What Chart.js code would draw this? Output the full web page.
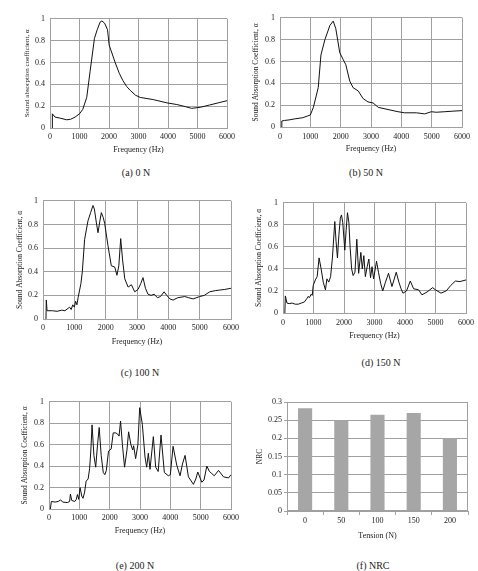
<!DOCTYPE html>
<html>
<head>
<meta charset="utf-8">
<script src="https://cdn.jsdelivr.net/npm/chart.js@4"></script>
<style>
body{margin:0;background:#fff;width:478px;height:571px;position:relative;overflow:hidden;font-family:"Liberation Serif",serif;}
canvas{position:absolute;}
.cap{position:absolute;width:120px;text-align:center;font-size:10px;line-height:12px;color:#222;}
</style>
</head>
<body>
<script>
// (a) 0 N
const freqA = [70, 80, 170, 350, 570, 700, 850, 1000, 1110, 1245, 1360, 1506, 1600, 1700, 1760, 1850, 1950, 2005, 2208, 2350, 2469, 2600, 2718, 2900, 3058, 3500, 3964, 4300, 4600, 4800, 5100, 5400, 5700, 6000];
const alphaA = [0, 0.13, 0.1, 0.09, 0.075, 0.08, 0.1, 0.13, 0.17, 0.28, 0.52, 0.82, 0.9, 0.97, 0.98, 0.96, 0.9, 0.76, 0.6, 0.5, 0.435, 0.38, 0.345, 0.3, 0.28, 0.26, 0.23, 0.215, 0.195, 0.18, 0.19, 0.21, 0.23, 0.25];
// (b) 50 N
const freqB = [50, 60, 150, 300, 500, 750, 900, 1000, 1100, 1260, 1350, 1480, 1645, 1755, 1840, 1970, 2080, 2170, 2300, 2410, 2580, 2740, 2900, 3070, 3240, 3560, 3890, 4110, 4500, 4770, 4990, 5150, 5430, 5700, 6000];
const alphaB = [0, 0.055, 0.06, 0.065, 0.075, 0.085, 0.1, 0.11, 0.18, 0.36, 0.66, 0.8, 0.93, 0.97, 0.9, 0.68, 0.62, 0.57, 0.42, 0.36, 0.33, 0.26, 0.23, 0.22, 0.18, 0.16, 0.14, 0.13, 0.13, 0.12, 0.14, 0.135, 0.14, 0.145, 0.15];
// (c) 100 N
const freqC = [95, 105, 130, 300, 450, 600, 700, 800, 850, 900, 950, 1000, 1040, 1083, 1120, 1169, 1210, 1255, 1329, 1435, 1520, 1595, 1640, 1700, 1755, 1810, 1862, 1920, 1968, 2074, 2180, 2290, 2360, 2420, 2480, 2540, 2610, 2717, 2822, 2927, 3033, 3120, 3191, 3270, 3350, 3450, 3550, 3650, 3750, 3864, 3950, 4050, 4150, 4300, 4525, 4650, 4790, 5000, 5150, 5320, 5500, 5640, 5800, 6000];
const alphaC = [0, 0.16, 0.07, 0.07, 0.065, 0.075, 0.07, 0.09, 0.1, 0.08, 0.12, 0.1, 0.15, 0.12, 0.18, 0.245, 0.3, 0.4, 0.675, 0.83, 0.9, 0.96, 0.93, 0.82, 0.73, 0.82, 0.9, 0.86, 0.81, 0.62, 0.45, 0.44, 0.37, 0.45, 0.68, 0.5, 0.34, 0.27, 0.29, 0.23, 0.25, 0.3, 0.35, 0.26, 0.21, 0.2, 0.21, 0.18, 0.19, 0.23, 0.2, 0.17, 0.16, 0.18, 0.19, 0.18, 0.17, 0.19, 0.2, 0.23, 0.24, 0.245, 0.25, 0.26];
// (d) 150 N
const freqD = [60, 77, 130, 200, 300, 400, 500, 600, 700, 780, 820, 870, 920, 960, 990, 1060, 1120, 1183, 1250, 1320, 1391, 1440, 1500, 1560, 1620, 1698, 1740, 1785, 1830, 1880, 1917, 1960, 2026, 2070, 2114, 2160, 2200, 2250, 2300, 2360, 2420, 2480, 2552, 2600, 2650, 2700, 2760, 2815, 2870, 2920, 2970, 3067, 3130, 3200, 3270, 3360, 3460, 3572, 3713, 3800, 3870, 3933, 4050, 4173, 4282, 4446, 4555, 4720, 4906, 5000, 5180, 5350, 5500, 5650, 5800, 6000];
const alphaD = [0, 0.155, 0.09, 0.085, 0.09, 0.08, 0.08, 0.09, 0.1, 0.13, 0.15, 0.14, 0.17, 0.16, 0.25, 0.3, 0.33, 0.5, 0.4, 0.28, 0.21, 0.31, 0.28, 0.33, 0.5, 0.83, 0.65, 0.5, 0.7, 0.86, 0.89, 0.82, 0.57, 0.75, 0.91, 0.82, 0.6, 0.4, 0.34, 0.37, 0.67, 0.36, 0.55, 0.4, 0.52, 0.33, 0.42, 0.49, 0.32, 0.42, 0.31, 0.47, 0.37, 0.27, 0.2, 0.28, 0.36, 0.24, 0.37, 0.28, 0.22, 0.18, 0.2, 0.29, 0.22, 0.21, 0.165, 0.19, 0.23, 0.21, 0.18, 0.2, 0.25, 0.29, 0.285, 0.3];
// (e) 200 N
const freqE = [44, 77, 200, 300, 386, 450, 600, 680, 706, 750, 850, 900, 937, 980, 1025, 1080, 1120, 1170, 1224, 1290, 1340, 1380, 1420, 1480, 1540, 1600, 1655, 1720, 1790, 1840, 1890, 1962, 2050, 2117, 2200, 2260, 2310, 2359, 2420, 2491, 2570, 2624, 2700, 2760, 2790, 2856, 2930, 2990, 3077, 3165, 3220, 3275, 3330, 3440, 3517, 3600, 3693, 3803, 3935, 4000, 4090, 4210, 4320, 4400, 4486, 4596, 4761, 4840, 4905, 5037, 5110, 5203, 5290, 5368, 5450, 5589, 5754, 5920, 6000];
const alphaE = [0, 0.07, 0.065, 0.07, 0.085, 0.065, 0.06, 0.07, 0.14, 0.08, 0.07, 0.09, 0.135, 0.09, 0.2, 0.12, 0.1, 0.15, 0.26, 0.28, 0.38, 0.55, 0.785, 0.5, 0.39, 0.6, 0.76, 0.5, 0.34, 0.32, 0.36, 0.54, 0.56, 0.71, 0.71, 0.7, 0.68, 0.82, 0.6, 0.39, 0.55, 0.72, 0.6, 0.55, 0.59, 0.47, 0.6, 0.945, 0.79, 0.485, 0.39, 0.52, 0.37, 0.675, 0.39, 0.35, 0.69, 0.34, 0.31, 0.32, 0.585, 0.41, 0.31, 0.42, 0.5, 0.3, 0.23, 0.28, 0.345, 0.25, 0.27, 0.4, 0.35, 0.33, 0.31, 0.36, 0.3, 0.29, 0.32];
// (f) NRC
const tension = ["0", "50", "100", "150", "200"];
const nrc = [0.283, 0.25, 0.265, 0.27, 0.2];

const GRID = '#a0a0a0';
const INK = '#222';
Chart.defaults.font.family = '"Liberation Serif", serif';
Chart.defaults.color = INK;

function zip(xs, ys){
    const n = Math.min(xs.length, ys.length);
    const out = [];
    for(let i = 0; i < n; i++) out.push({x: xs[i], y: ys[i]});
    return out;
}

function makeCanvas(left, top, w, h){
    const cv = document.createElement('canvas');
    cv.width = w; cv.height = h;
    cv.style.left = left + 'px'; cv.style.top = top + 'px';
    cv.style.width = w + 'px'; cv.style.height = h + 'px';
    document.body.appendChild(cv);
    return cv;
}

function caption(text, cx, cy){
    const d = document.createElement('div');
    d.className = 'cap';
    d.textContent = text;
    d.style.left = (cx - 60) + 'px';
    d.style.top = (cy - 6) + 'px';
    document.body.appendChild(d);
}

// clean decimal labels (0.05 steps give float noise)
const fmt = v => String(Number(v.toFixed(3)));

// draws the right/top edge of the plot box
const frame = {
    id: 'frame',
    afterDatasetsDraw(chart){
        const {ctx, chartArea: a} = chart;
        ctx.save();
        ctx.strokeStyle = GRID;
        ctx.lineWidth = 1;
        ctx.strokeRect(Math.round(a.left) + 0.5, Math.round(a.top) + 0.5, Math.round(a.right - a.left) - 1, Math.round(a.bottom - a.top) - 1);
        ctx.restore();
    }
};

function lineChart(p){
    const tSize = p.tSize || 7.5;
    const left = Math.round(p.yTitleX - tSize * 0.6);
    const top = p.T - 8;
    const right = p.R + 14;
    const bottom = Math.round(p.xTitleY + 4.8);
    const cv = makeCanvas(left, top, right - left, bottom - top);
    new Chart(cv, {
        type: 'line',
        data: {datasets: [{data: zip(p.freq, p.alpha), borderColor: '#111', borderWidth: 1, pointRadius: 0, tension: 0, fill: false}]},
        options: {
            responsive: false,
            animation: false,
            layout: {padding: {left: 0, top: 8, right: 14, bottom: 0}},
            plugins: {legend: {display: false}, tooltip: {enabled: false}},
            scales: {
                x: {
                    type: 'linear', min: 0, max: 6000,
                    ticks: {stepSize: 1000, padding: p.xTickY - p.B - 4.8, font: {size: 8}, maxRotation: 0, autoSkip: false, callback: v => String(v)},
                    grid: {color: GRID, drawTicks: false},
                    border: {color: GRID},
                    title: {display: true, text: 'Frequency (Hz)', font: {size: 8}, padding: 0},
                    afterFit: s => { s.height = bottom - p.B; }
                },
                y: {
                    min: 0, max: 1,
                    ticks: {stepSize: 0.2, padding: 5, font: {size: 8}, callback: fmt},
                    grid: {color: GRID, drawTicks: false},
                    border: {color: GRID},
                    title: {display: true, text: p.yTitle, font: {size: tSize}, padding: 0},
                    afterFit: s => { s.width = p.L - left; }
                }
            }
        }
    });
    caption(p.cap, p.capX, p.capY);
}

lineChart({freq: freqA, alpha: alphaA, L: 50, T: 17, R: 227, B: 128, yTitleX: 27, xTickY: 137, xTitleY: 150,
    yTitle: 'Sound absorption coefficient, α', tSize: 7, cap: '(a) 0 N', capX: 136, capY: 173});
lineChart({freq: freqB, alpha: alphaB, L: 280, T: 16, R: 462, B: 127, yTitleX: 256, xTickY: 137, xTitleY: 149,
    yTitle: 'Sound Absorption Coefficient, α', cap: '(b) 50 N', capX: 366, capY: 173});
lineChart({freq: freqC, alpha: alphaC, L: 43, T: 199, R: 231, B: 319, yTitleX: 20, xTickY: 328, xTitleY: 342,
    yTitle: 'Sound Absorption Coefficient, α', cap: '(c) 100 N', capX: 140, capY: 373});
lineChart({freq: freqD, alpha: alphaD, L: 283, T: 201, R: 466, B: 313, yTitleX: 259, xTickY: 323, xTitleY: 336,
    yTitle: 'Sound Absorption Coefficient, α', cap: '(d) 150 N', capX: 381, capY: 363});
lineChart({freq: freqE, alpha: alphaE, L: 49, T: 400, R: 231, B: 509, yTitleX: 25, xTickY: 518, xTitleY: 531,
    yTitle: 'Sound Absorption Coefficient, α', cap: '(e) 200 N', capX: 135, capY: 566});

// (f) bar chart
(function(){
    const L = 287, T = 402, R = 468, B = 511;
    const left = Math.round(260 - 4.5);
    const top = T - 8;
    const right = R + 10;
    const bottom = Math.round(536 + 4.8);
    const cv = makeCanvas(left, top, right - left, bottom - top);
    new Chart(cv, {
        type: 'bar',
        data: {labels: tension, datasets: [{data: nrc, backgroundColor: '#a6a6a6', barPercentage: 0.39, categoryPercentage: 1}]},
        options: {
            responsive: false,
            animation: false,
            layout: {padding: {left: 0, top: 8, right: 10, bottom: 0}},
            plugins: {legend: {display: false}, tooltip: {enabled: false}},
            scales: {
                x: {
                    ticks: {padding: 1, font: {size: 8}},
                    grid: {color: GRID, drawOnChartArea: false, tickLength: 4},
                    border: {color: GRID},
                    title: {display: true, text: 'Tension (N)', font: {size: 8}, padding: 0},
                    afterFit: s => { s.height = bottom - B; }
                },
                y: {
                    min: 0, max: 0.3,
                    ticks: {stepSize: 0.05, padding: 2, font: {size: 8}, callback: fmt},
                    grid: {color: GRID, tickLength: 3},
                    border: {color: GRID},
                    title: {display: true, text: 'NRC', font: {size: 7.5}, padding: 0},
                    afterFit: s => { s.width = L - left; }
                }
            }
        },
        plugins: [frame]
    });
    caption('(f) NRC', 373, 566);
})();
</script>
</body>
</html>
